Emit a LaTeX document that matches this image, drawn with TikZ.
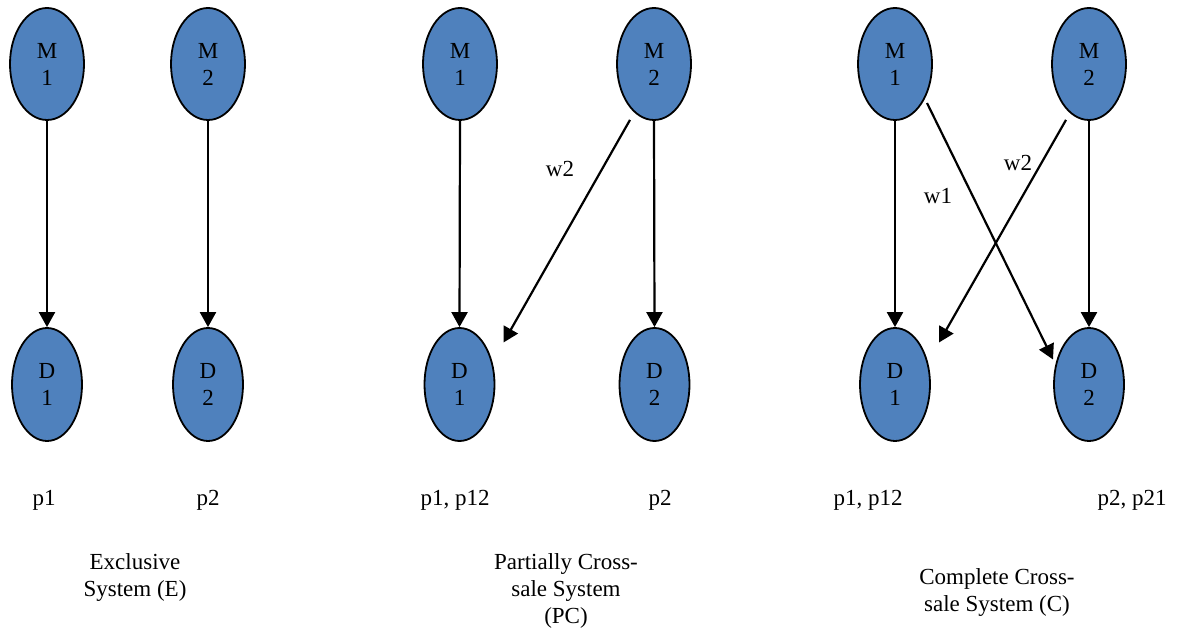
\documentclass[tikz,border=0pt]{standalone}
\usepackage{fontspec}
\setmainfont{Liberation Serif}
\usetikzlibrary{shapes.geometric,arrows.meta,calc}
\definecolor{nodeblue}{HTML}{4F81BD}
\begin{document}
\begin{tikzpicture}[x=1pt,y=-1pt,
  font=\fontsize{23}{27}\selectfont,
  mnode/.style={ellipse,draw=black,line width=1.8pt,fill=nodeblue,minimum width=74pt,minimum height=112pt,inner sep=0pt,align=center},
  dnode/.style={ellipse,draw=black,line width=1.8pt,fill=nodeblue,minimum width=70pt,minimum height=113pt,inner sep=0pt,align=center},
  link/.style={line width=2.2pt,-{Triangle[length=15pt,width=16pt]}},
  lbl/.style={inner sep=0pt,anchor=base},
  captext/.style={inner sep=0pt,anchor=north,align=center}]
\useasboundingbox (0,0) rectangle (1183,628);
% Exclusive
\node[mnode] (EM1) at (47,64) {M\\1};
\node[mnode] (EM2) at (208,64) {M\\2};
\node[dnode] (ED1) at (47,384.5) {D\\1};
\node[dnode] (ED2) at (208,384.5) {D\\2};
\draw[link] (EM1.south) -- (ED1.north);
\draw[link] (EM2.south) -- (ED2.north);
\node[lbl] (Ep1) at (44,505) {p1};
\node[lbl] (Ep2) at (208,505) {p2};
\node[captext] (Ecap) at (135,553) {Exclusive\\System (E)};
% Partially cross-sale
\node[mnode] (PM1) at (460,64) {M\\1};
\node[mnode] (PM2) at (654,64) {M\\2};
\node[dnode] (PD1) at (459.5,384.5) {D\\1};
\node[dnode] (PD2) at (654.5,384.5) {D\\2};
\draw[link] (PM1.south) -- (PD1.north);
\draw[link] (PM2.south) -- (PD2.north);
\coordinate (Ps) at ($(PM2.south)+(-24,-1)$);
\coordinate (Pt) at ($(PD1.center)+(44,-42)$);
\draw[link] (Ps) -- (Pt);
\node[lbl] (Pw2) at (560,177) {w2};
\node[lbl] (Pp1) at (455,505) {p1, p12};
\node[lbl] (Pp2) at (660,505) {p2};
\node[captext] (Pcap) at (566,553) {Partially Cross-\\sale System\\(PC)};
% Complete cross-sale
\node[mnode] (CM1) at (895,64) {M\\1};
\node[mnode] (CM2) at (1089,64) {M\\2};
\node[dnode] (CD1) at (895,384.5) {D\\1};
\node[dnode] (CD2) at (1089,384.5) {D\\2};
\draw[link] (CM1.south) -- (CD1.north);
\draw[link] (CM2.south) -- (CD2.north);
\coordinate (Cs2) at ($(CM2.south)+(-23,-1)$);
\coordinate (Ct1) at ($(CD1.center)+(44,-42)$);
\coordinate (Cs1) at ($(CM1.center)+(32,39)$);
\coordinate (Ct2) at ($(CD2.center)+(-36,-25)$);
\draw[link] (Cs2) -- (Ct1);
\draw[link] (Cs1) -- (Ct2);
\node[lbl] (Cw1) at (938,204) {w1};
\node[lbl] (Cw2) at (1018,171) {w2};
\node[lbl] (Cp1) at (868,505) {p1, p12};
\node[lbl] (Cp2) at (1132,505) {p2, p21};
\node[captext] (Ccap) at (997,568) {Complete Cross-\\sale System (C)};
\end{tikzpicture}
\end{document}
